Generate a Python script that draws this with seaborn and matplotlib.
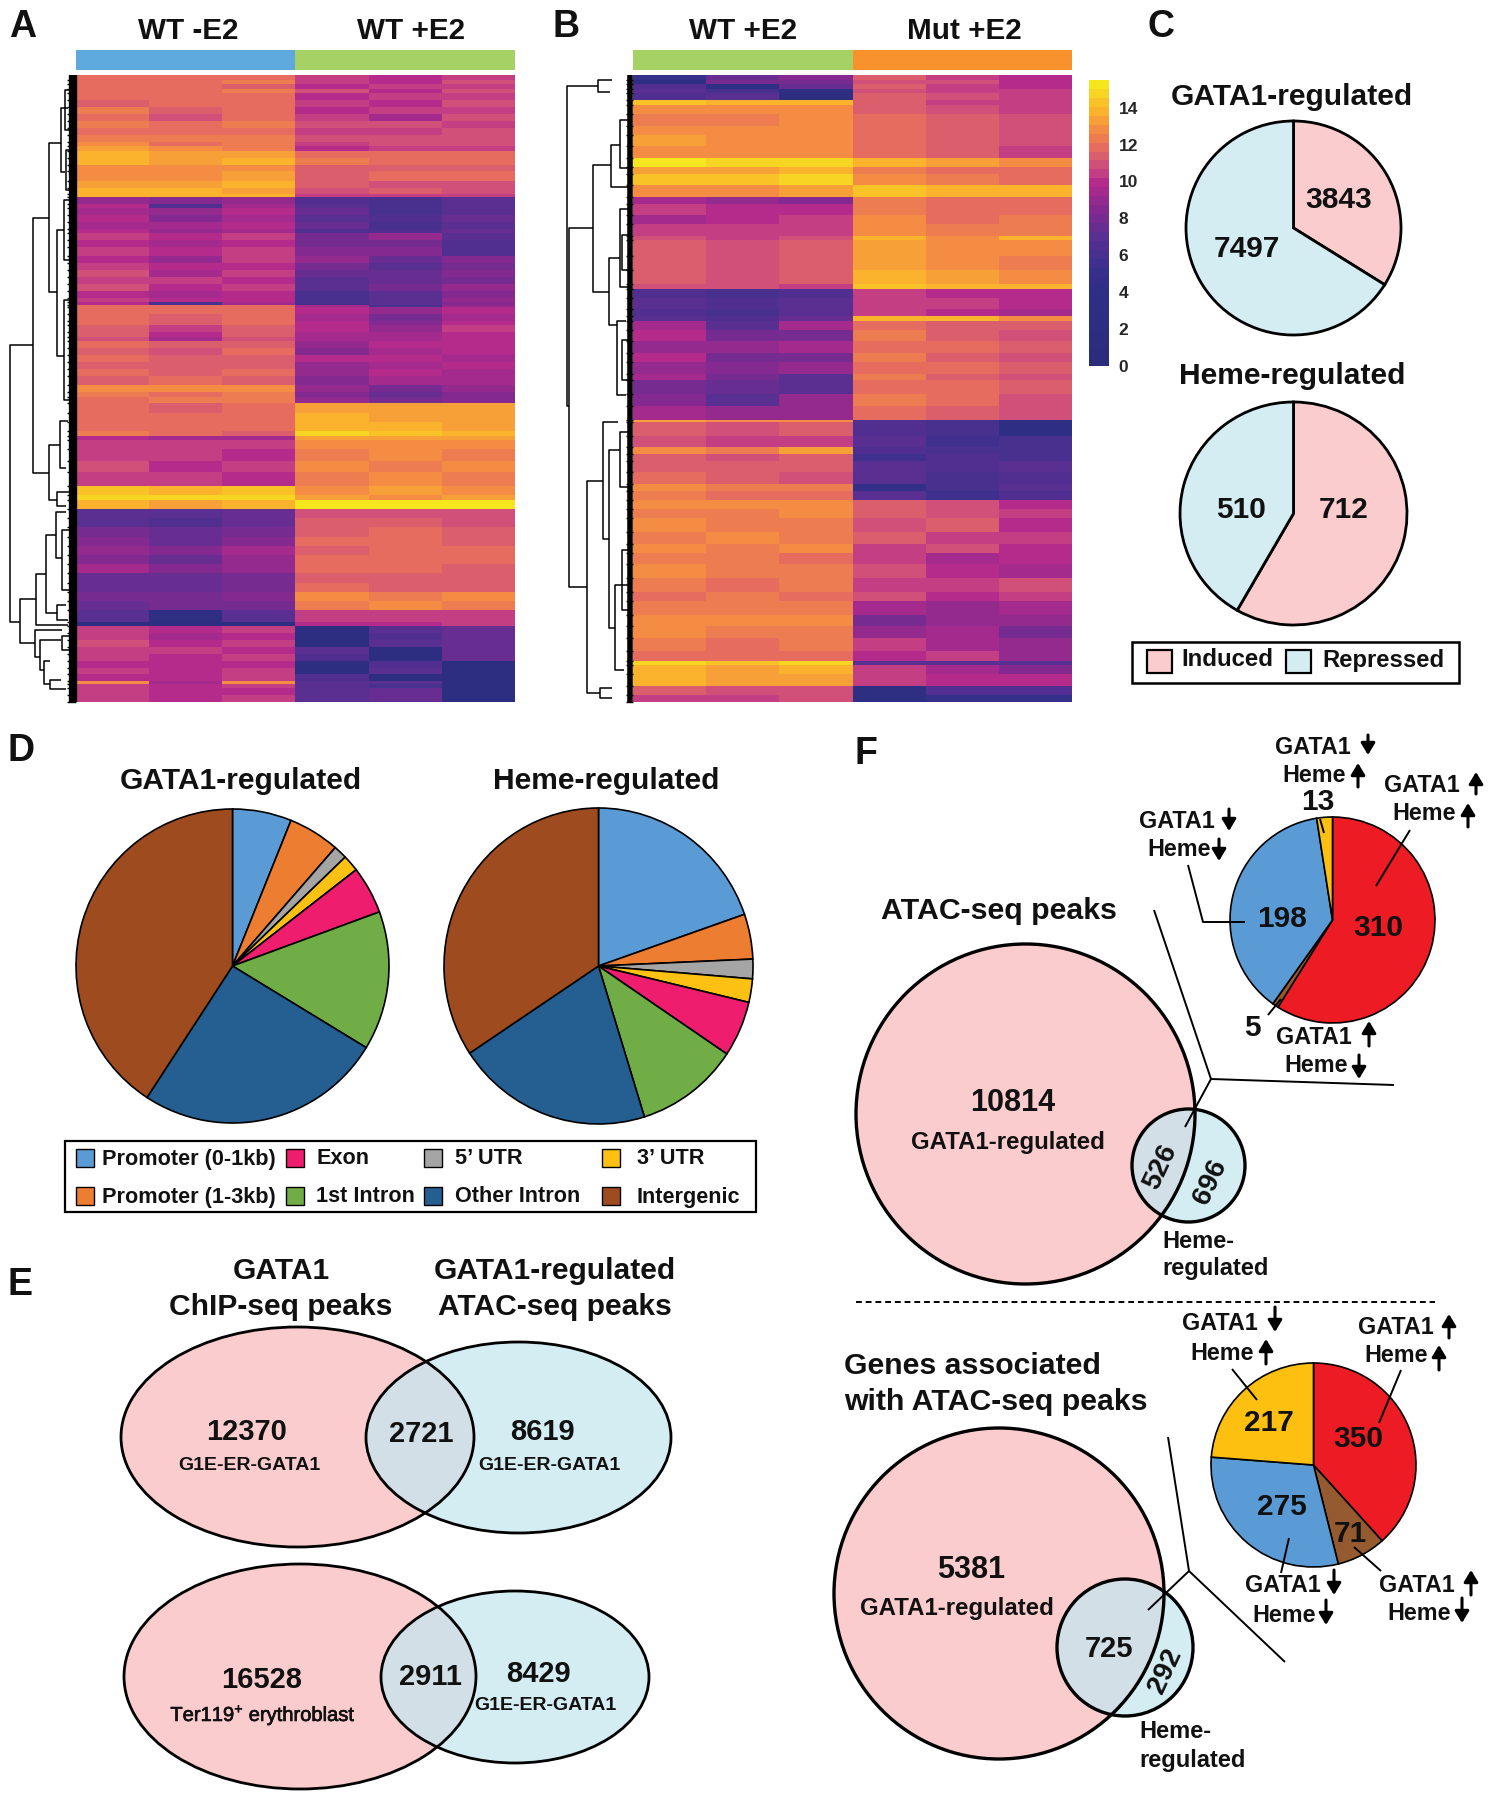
import numpy as np
import matplotlib
matplotlib.use("Agg")
import matplotlib.pyplot as plt
import matplotlib.patheffects as pe
import seaborn as sns
from matplotlib.colors import LinearSegmentedColormap
from matplotlib.patches import Ellipse, Rectangle

W, H = 1492, 1800

# heatmap bands: last gene rank of the band, then the six sample values
A_BANDS = [
    [2, 12.0, 11.9, 12.0, 10.2, 9.9, 10.4], [4, 11.7, 11.8, 12.2, 10.6, 10.0, 11.0],
    [6, 12.1, 12.0, 11.6, 10.0, 10.3, 10.3], [8, 11.8, 11.7, 12.3, 10.7, 10.1, 11.1],
    [11, 12.0, 11.9, 11.8, 10.1, 10.4, 10.4], [14, 11.6, 12.0, 12.1, 10.6, 9.9, 10.8],
    [17, 12.2, 11.6, 11.8, 9.9, 10.2, 10.3], [20, 12.0, 11.0, 11.9, 10.5, 9.4, 10.7],
    [23, 12.4, 12.1, 12.2, 10.8, 10.8, 10.5], [26, 12.1, 11.8, 12.0, 10.4, 10.3, 11.0],
    [29, 12.4, 12.3, 12.3, 10.9, 10.7, 10.8], [31, 12.6, 12.1, 12.2, 10.5, 11.0, 11.1],
    [33, 13.2, 12.9, 12.5, 9.8, 10.4, 10.6], [36, 13.6, 13.2, 13.4, 11.8, 11.7, 11.8],
    [39, 13.7, 13.5, 13.6, 12.2, 11.9, 12.0], [42, 12.9, 12.7, 13.0, 11.6, 11.5, 11.4],
    [46, 13.0, 13.0, 13.1, 11.2, 11.7, 11.7], [49, 13.5, 13.4, 13.6, 11.4, 11.0, 11.1],
    [52, 13.7, 13.6, 13.4, 10.8, 11.2, 11.0], [53, 13.9, 13.8, 14.0, 10.2, 10.6, 10.4],
    [56, 9.2, 8.3, 9.1, 6.6, 6.2, 6.8], [58, 9.7, 6.5, 9.5, 6.9, 6.2, 7.2],
    [61, 9.3, 9.2, 9.7, 7.3, 6.0, 6.9], [64, 9.9, 8.6, 9.4, 7.0, 6.3, 7.4],
    [67, 9.5, 9.4, 10.0, 7.4, 6.1, 7.1], [69, 10.0, 9.0, 9.6, 6.3, 6.4, 7.5],
    [72, 10.4, 9.9, 10.2, 8.2, 9.0, 7.0], [75, 10.0, 9.5, 9.9, 7.8, 8.2, 6.6],
    [79, 10.6, 10.0, 10.4, 8.4, 8.6, 6.4], [82, 9.8, 9.2, 10.3, 8.8, 7.6, 8.4],
    [85, 10.4, 9.7, 10.0, 8.0, 7.2, 8.0], [88, 11.0, 9.5, 10.3, 7.5, 7.7, 8.6],
    [91, 10.3, 10.2, 9.8, 7.2, 7.4, 8.2], [94, 10.7, 9.9, 10.2, 6.8, 7.8, 8.8],
    [97, 9.8, 9.4, 10.1, 6.0, 6.9, 8.4], [99, 10.2, 9.9, 9.9, 6.0, 7.2, 9.0],
    [100, 10.0, 6.0, 9.6, 6.1, 7.0, 8.6], [101, 11.9, 11.8, 11.9, 9.6, 6.2, 8.8],
    [104, 12.0, 11.9, 12.1, 10.0, 8.8, 9.8], [107, 11.7, 11.6, 11.8, 9.6, 8.0, 9.5],
    [109, 11.8, 11.2, 11.9, 10.1, 8.4, 10.0], [112, 11.4, 10.3, 11.5, 10.0, 9.0, 10.2],
    [114, 11.2, 10.0, 11.3, 9.3, 9.4, 9.9], [116, 11.1, 9.4, 11.0, 9.6, 9.6, 10.0],
    [119, 11.7, 11.3, 11.6, 9.0, 9.9, 9.7], [122, 11.4, 11.0, 11.7, 8.6, 9.6, 10.1],
    [125, 11.8, 11.4, 11.2, 9.8, 10.0, 9.4], [128, 11.5, 11.6, 11.6, 9.2, 9.3, 9.8],
    [131, 11.8, 11.3, 11.8, 8.8, 9.7, 9.3], [135, 11.4, 11.7, 11.2, 8.3, 9.5, 9.6],
    [138, 12.9, 12.8, 12.9, 8.8, 8.2, 9.2], [140, 12.3, 12.0, 12.4, 8.4, 7.7, 8.6],
    [143, 12.0, 12.2, 12.2, 8.9, 7.9, 8.4], [147, 11.8, 11.6, 11.9, 13.4, 13.5, 13.1],
    [151, 12.1, 11.9, 12.0, 13.7, 13.4, 13.3], [155, 11.7, 11.8, 11.8, 13.6, 13.8, 13.4],
    [157, 12.2, 12.0, 11.6, 14.6, 14.3, 13.8], [159, 9.7, 9.4, 9.6, 13.2, 13.1, 13.4],
    [163, 10.6, 10.2, 10.4, 12.6, 12.6, 13.0], [168, 10.3, 10.5, 10.1, 12.4, 12.7, 12.4],
    [173, 10.7, 9.9, 10.4, 12.7, 12.3, 12.6], [179, 10.4, 10.2, 10.1, 12.4, 12.6, 12.3],
    [183, 14.4, 14.0, 14.4, 12.9, 13.4, 13.0], [185, 14.8, 14.6, 14.7, 13.2, 13.0, 13.2],
    [189, 13.7, 13.5, 13.7, 15.2, 15.2, 15.2], [193, 7.2, 6.9, 7.3, 10.9, 11.0, 11.0],
    [197, 6.8, 6.6, 7.5, 11.5, 11.3, 11.0], [201, 7.8, 7.5, 8.2, 11.2, 11.8, 11.6],
    [205, 8.7, 7.4, 8.4, 11.9, 12.0, 11.4], [209, 9.2, 8.6, 9.5, 11.5, 11.7, 11.9],
    [213, 8.4, 7.6, 9.0, 12.1, 11.8, 11.7], [217, 9.4, 8.3, 8.8, 11.8, 12.0, 11.5],
    [221, 7.6, 7.4, 8.2, 11.5, 11.3, 11.5], [225, 7.3, 7.6, 7.8, 11.8, 11.5, 11.2],
    [229, 7.9, 7.8, 8.5, 12.7, 12.5, 12.6], [233, 7.4, 8.2, 8.2, 12.4, 12.8, 12.5],
    [238, 7.0, 3.0, 7.0, 10.6, 10.3, 10.4], [240, 2.0, 2.5, 2.0, 9.9, 10.0, 10.2],
    [243, 10.6, 9.9, 10.2, 2.0, 6.8, 7.6], [246, 10.2, 9.6, 9.8, 2.0, 6.4, 7.3],
    [249, 10.7, 10.0, 10.3, 2.0, 6.9, 7.5], [252, 10.3, 10.2, 10.0, 7.0, 2.0, 7.4],
    [255, 10.6, 9.8, 10.4, 6.4, 2.0, 7.7], [258, 10.0, 10.0, 9.9, 2.0, 6.6, 2.0],
    [261, 10.3, 9.7, 10.2, 2.0, 7.2, 2.0], [264, 9.9, 10.1, 10.3, 6.5, 2.0, 2.0],
    [265, 12.7, 9.6, 12.6, 7.2, 7.0, 2.0], [267, 10.4, 9.8, 10.4, 6.8, 6.0, 2.0],
    [270, 10.2, 10.1, 10.0, 7.2, 7.6, 2.0], [273, 10.5, 9.7, 10.4, 6.9, 7.3, 2.0],
]

B_BANDS = [
    [2, 5.0, 7.5, 8.6, 11.3, 10.5, 9.8], [4, 3.5, 8.0, 8.0, 11.0, 10.8, 10.0],
    [6, 6.6, 4.0, 7.5, 11.4, 10.6, 10.1], [8, 6.8, 6.0, 3.0, 11.0, 10.3, 10.3],
    [11, 6.4, 7.0, 2.5, 11.4, 10.8, 10.3], [13, 14.2, 14.0, 14.0, 11.5, 10.6, 10.4],
    [17, 12.9, 12.6, 13.0, 11.5, 11.0, 10.6], [22, 12.5, 12.5, 12.7, 11.8, 11.3, 10.7],
    [26, 12.8, 12.6, 12.8, 12.0, 11.5, 11.0], [31, 13.3, 13.0, 13.0, 11.8, 11.2, 10.9],
    [36, 13.0, 12.8, 13.0, 11.7, 11.4, 10.6], [40, 15.1, 14.6, 14.9, 13.6, 13.2, 12.8],
    [43, 13.5, 13.5, 13.7, 12.3, 12.0, 11.8], [48, 14.2, 14.2, 14.6, 12.8, 12.3, 12.0],
    [53, 13.0, 12.8, 13.1, 14.1, 13.7, 13.6], [56, 9.5, 9.0, 8.7, 12.5, 11.8, 11.8],
    [61, 10.4, 9.8, 9.8, 12.4, 12.0, 12.1], [65, 9.6, 10.0, 10.2, 12.8, 12.0, 12.2],
    [70, 10.4, 10.4, 10.6, 12.6, 12.5, 12.4], [72, 11.0, 10.6, 11.0, 14.0, 13.0, 13.6],
    [79, 11.5, 11.0, 11.6, 13.2, 12.7, 12.8], [85, 11.2, 10.8, 11.4, 13.4, 12.9, 12.4],
    [91, 11.6, 11.0, 11.2, 13.8, 13.2, 12.8], [93, 11.0, 10.8, 10.6, 14.5, 14.0, 14.0],
    [97, 6.5, 6.0, 6.5, 10.4, 10.0, 9.8], [102, 7.0, 6.5, 7.0, 10.6, 10.2, 9.8],
    [105, 6.4, 6.0, 6.8, 10.3, 10.0, 9.4], [107, 7.2, 6.4, 7.5, 13.9, 13.6, 13.0],
    [111, 9.6, 7.0, 9.5, 11.9, 11.3, 11.4], [116, 9.9, 7.8, 8.2, 12.2, 11.5, 10.8],
    [121, 9.2, 8.8, 9.4, 12.0, 11.8, 11.3], [125, 9.8, 8.2, 7.8, 12.3, 11.6, 11.0],
    [130, 9.0, 8.6, 9.2, 12.0, 11.9, 11.5], [133, 9.6, 8.0, 6.8, 12.4, 11.6, 10.9],
    [139, 8.0, 7.4, 7.0, 12.1, 11.9, 11.3], [144, 8.4, 7.2, 9.0, 12.4, 11.8, 10.8],
    [150, 9.4, 8.8, 9.0, 12.0, 11.6, 11.0], [151, 13.3, 12.8, 13.0, 6.5, 6.0, 3.0],
    [157, 11.4, 10.9, 11.2, 6.6, 6.0, 3.5], [162, 10.8, 10.6, 10.4, 7.2, 5.8, 6.0],
    [165, 12.6, 12.2, 13.2, 6.4, 6.2, 6.0], [168, 11.6, 11.0, 11.4, 5.8, 6.6, 6.2],
    [173, 11.2, 11.4, 11.6, 7.2, 6.4, 7.0], [178, 11.7, 11.4, 11.1, 7.0, 6.0, 6.6],
    [181, 12.8, 12.4, 12.2, 4.5, 6.0, 6.8], [185, 12.2, 12.0, 11.8, 7.0, 5.5, 6.6],
    [189, 12.8, 12.7, 12.9, 11.2, 10.8, 10.0], [193, 12.4, 12.5, 12.6, 11.4, 11.0, 10.2],
    [199, 12.8, 12.3, 12.5, 11.0, 11.2, 9.8], [204, 12.5, 12.6, 12.2, 11.2, 10.4, 10.3],
    [208, 12.7, 12.2, 12.6, 10.6, 11.0, 9.9], [213, 12.4, 12.5, 12.1, 10.2, 9.6, 10.0],
    [219, 12.7, 12.3, 12.5, 10.8, 9.9, 9.6], [225, 12.2, 12.0, 12.4, 10.4, 10.6, 10.8],
    [229, 12.0, 12.2, 12.1, 10.7, 9.8, 10.2], [235, 12.5, 12.4, 12.3, 9.6, 9.0, 9.4],
    [240, 12.9, 12.6, 12.6, 8.2, 8.8, 8.8], [245, 12.6, 12.3, 12.4, 8.8, 9.4, 7.8],
    [251, 12.3, 12.1, 12.2, 10.2, 9.6, 9.0], [255, 11.9, 12.0, 11.9, 9.9, 10.3, 9.2],
    [257, 14.6, 14.1, 14.6, 6.8, 7.2, 7.0], [261, 13.6, 13.3, 13.6, 10.4, 9.6, 8.6],
    [266, 14.0, 13.4, 13.2, 10.2, 10.0, 9.9], [270, 11.2, 11.0, 11.0, 3.0, 6.4, 6.6],
    [273, 10.6, 10.4, 10.8, 3.0, 5.0, 5.0],
]

CBAR_LEVELS = [0, 3.5, 5, 7, 8.5, 10, 11, 12, 13, 14, 15.5]
CBAR_COLOURS = ["#2B2C7C", "#2E2E84", "#35308A", "#5A2F92", "#83298F", "#B52B8C",
                "#D0507A", "#E56C5E", "#F48D43", "#FBB22D", "#F5E61E"]
CBAR_TICKS = [0, 2, 4, 6, 8, 10, 12, 14]

# tree brackets: x of the stem, upper y, upper child x, lower y, lower child x
A_TREE = [(10, 345, 33, 622, 20), (33, 218, 49, 473, 49), (49, 143, 61, 292, 57),
          (61, 108, 68, 172, 65), (57, 230, 64, 356, 64), (49, 445, 60, 500, 57),
          (60, 421, 68, 468, 66), (57, 492, 70, 506, 66), (20, 599, 36, 643, 35),
          (36, 574, 46, 625, 68), (46, 535, 56, 613, 57), (56, 512, 66, 558, 62),
          (57, 605, 66, 620, 68), (35, 630, 62, 657, 40), (40, 640, 61, 670, 44),
          (44, 661, 50, 684, 50), (50, 680, 61, 689, 66), (65, 90, 70, 130, 70),
          (64, 200, 70, 260, 70), (64, 300, 70, 400, 70), (66, 150, 70, 190, 70),
          (62, 530, 70, 590, 70), (62, 636, 70, 650, 70)]
B_TREE = [(567, 86, 598, 406, 569), (598, 80, 612, 92, 610), (569, 228, 593, 587, 587),
          (593, 165, 611, 292, 609), (611, 145, 620, 187, 630), (620, 120, 628, 168, 628),
          (609, 258, 620, 325, 617), (620, 209, 628, 287, 628), (617, 321, 626, 395, 626),
          (587, 481, 603, 693, 600), (603, 422, 618, 539, 609), (609, 450, 620, 628, 615),
          (620, 432, 628, 487, 628), (615, 585, 628, 670, 624), (600, 688, 612, 698, 612),
          (622, 235, 629, 270, 629), (622, 340, 629, 380, 629), (622, 550, 629, 610, 629)]

PIE_C_TOP = [3843, 7497]
PIE_C_BOTTOM = [712, 510]
REGION_LABELS = ["Promoter (0-1kb)", "Promoter (1-3kb)", "5' UTR", "3' UTR",
                 "Exon", "1st Intron", "Other Intron", "Intergenic"]
REGION_GATA1 = [6.1, 5.3, 1.4, 1.7, 4.9, 14.3, 25.5, 40.8]
REGION_HEME = [19.7, 4.6, 2.0, 2.4, 5.7, 10.8, 20.5, 34.3]
PIE_F_TOP = [310, 5, 198, 13]
PIE_F_BOTTOM = [350, 71, 275, 217]

PINK, LBLUE, OVERLAP = "#FBCCCD", "#D4EDF3", "#D3DFE6"
REGION_COLOURS = ["#5B9BD5", "#ED7D31", "#A5A5A5", "#FDC113",
                  "#EE1D6D", "#70AD47", "#255E91", "#9E4B20"]
COMBO_COLOURS = ["#ED1C24", "#955A30", "#5B9BD5", "#FDC010"]

sns.set_theme(style="white")
plt.rcParams["font.family"] = ["Liberation Sans", "DejaVu Sans"]
plt.rcParams["mathtext.default"] = "regular"

fig = plt.figure(figsize=(W / 100, H / 100), dpi=100, facecolor="white")


def px_axes(x0, y0, x1, y1, **kw):
    return fig.add_axes([x0 / W, 1 - y1 / H, (x1 - x0) / W, (y1 - y0) / H], **kw)


cmap = LinearSegmentedColormap.from_list(
    "expr", [(lv / 15.5, c) for lv, c in zip(CBAR_LEVELS, CBAR_COLOURS)], N=32)


def band_matrix(bands):
    bands = np.array(bands)
    spans = np.diff(np.r_[0, bands[:, 0]]).astype(int)
    return np.repeat(bands[:, 1:], spans, axis=0)


cax = px_axes(1089, 80, 1109, 366)
for bands, box, cb in [(A_BANDS, (76, 75, 515, 702), False),
                       (B_BANDS, (633, 75, 1072, 702), True)]:
    ax = px_axes(*box)
    sns.heatmap(band_matrix(bands), ax=ax, cmap=cmap, vmin=0, vmax=15.5,
                xticklabels=False, yticklabels=False, cbar=cb,
                cbar_ax=cax if cb else None)
cax.set_yticks(CBAR_TICKS)
cax.set_yticklabels([str(t) for t in CBAR_TICKS], fontsize=12.5, fontweight="bold")
cax.tick_params(axis="y", length=0, pad=7)
for sp in cax.spines.values():
    sp.set_visible(False)


def draw_pie(box, values, colours, lw=1.6):
    ax = px_axes(*box)
    ax.pie(values, colors=colours, startangle=90, counterclock=False, frame=False,
           wedgeprops=dict(edgecolor="black", linewidth=lw, clip_on=False))
    ax.set_aspect("auto")
    ax.set_xlim(-1, 1)
    ax.set_ylim(-1, 1)
    ax.axis("off")


draw_pie((1186, 121, 1401, 335), PIE_C_TOP, [PINK, LBLUE], 2)
draw_pie((1180, 402, 1407, 625), PIE_C_BOTTOM, [PINK, LBLUE], 2)
draw_pie((76, 809, 389, 1123), REGION_GATA1, REGION_COLOURS, 1.2)
draw_pie((444, 808, 753, 1124), REGION_HEME, REGION_COLOURS, 1.2)
draw_pie((1230, 817, 1435, 1023), PIE_F_TOP, COMBO_COLOURS, 1.2)
draw_pie((1211, 1363, 1416, 1567), PIE_F_BOTTOM, COMBO_COLOURS, 1.2)

# everything else is laid out in picture pixels on one transparent overlay
ov = px_axes(0, 0, W, H, zorder=5)
ov.set_xlim(0, W)
ov.set_ylim(H, 0)
ov.axis("off")
ov.patch.set_alpha(0)


def txt(x, y, s, size=15, weight="bold", ha="center", rot=0):
    return ov.text(x, y + 2, s, fontsize=size, fontweight=weight, ha=ha, va="center",
                   rotation=rot, color="#111111", rotation_mode="anchor")


def line(pts, lw=1.3, **kw):
    xs, ys = zip(*pts)
    ov.plot(xs, ys, color="black", lw=lw, solid_capstyle="butt", **kw)


def arrow(x, y0, y1):
    ov.annotate("", xy=(x, y1), xytext=(x, y0),
                arrowprops=dict(arrowstyle="-|>,head_width=0.3,head_length=0.5",
                                color="black", lw=2.2, shrinkA=0, shrinkB=0,
                                mutation_scale=14))


def bar(x0, x1, colour):
    ov.add_patch(Rectangle((x0, 50), x1 - x0, 20, fc=colour, ec="none"))


def venn(a, b, lw=2):
    # a and b are (x0, y0, x1, y1) boxes of the two ellipses
    def ell(box, **kw):
        x0, y0, x1, y1 = box
        return Ellipse(((x0 + x1) / 2, (y0 + y1) / 2), x1 - x0, y1 - y0, **kw)
    ov.add_patch(ell(b, fc=LBLUE, ec="none"))
    ov.add_patch(ell(a, fc=PINK, ec="none"))
    clip = ell(a, fc="none", ec="none")
    ov.add_patch(clip)
    mid = ell(b, fc=OVERLAP, ec="none")
    ov.add_patch(mid)
    mid.set_clip_path(clip)
    ov.add_patch(ell(a, fc="none", ec="black", lw=lw))
    ov.add_patch(ell(b, fc="none", ec="black", lw=lw))


# panel letters
for s, x, y in [("A", 23, 25), ("B", 566, 25), ("C", 1161, 25),
                ("D", 21, 749), ("E", 20, 1283), ("F", 866, 752)]:
    txt(x, y, s, size=27)

# A, B headers and dendrograms
bar(76, 295, "#5EA9DD")
bar(295, 515, "#A6D164")
bar(633, 852.5, "#A6D164")
bar(852.5, 1072, "#F7922D")
for s, x in [("WT -E2", 188), ("WT +E2", 411), ("WT +E2", 743), ("Mut +E2", 964)]:
    txt(x, 29, s, size=21.3)

for tree, bands, left, width, tick in [(A_TREE, A_BANDS, 76, 6, 9), (B_TREE, B_BANDS, 633, 4, 7)]:
    for x, y0, x0, y1, x1 in tree:
        line([(x0, y0), (x, y0), (x, y1), (x1, y1)], lw=1.1)
    line([(left - 3.5, 75), (left - 3.5, 702)], lw=width)
    for row in bands:
        y = 75 + row[0] / 273 * 627
        line([(left - tick, y), (left, y)], lw=1)

# C
txt(1292, 95, "GATA1-regulated", size=21.6)
txt(1292, 374, "Heme-regulated", size=21.6)
txt(1339, 198, "3843", size=21.5)
txt(1247, 247, "7497", size=21.5)
txt(1241, 508, "510", size=21.5)
txt(1344, 508, "712", size=21.5)
ov.add_patch(Rectangle((1132, 642), 327, 41, fc="white", ec="black", lw=1.8))
ov.add_patch(Rectangle((1147, 650), 25, 23, fc=PINK, ec="black", lw=1.6))
ov.add_patch(Rectangle((1286, 650), 25, 23, fc=LBLUE, ec="black", lw=1.6))
txt(1181, 658, "Induced", size=17.3, ha="left")
txt(1322, 658, "Repressed", size=17.2, ha="left")

# D
txt(241, 779, "GATA1-regulated", size=21.6)
txt(606, 779, "Heme-regulated", size=21.6)
ov.add_patch(Rectangle((65, 1141), 691, 71, fc="white", ec="black", lw=1.6))
cols_patch = [76, 286, 424, 602]
cols_text = [102, 316, 455, 637]
legend_order = [[0, 4, 2, 3], [1, 5, 6, 7]]
for y, order in zip([1158, 1196], legend_order):
    for px, tx, i in zip(cols_patch, cols_text, order):
        ov.add_patch(Rectangle((px, y - 9), 18, 18, fc=REGION_COLOURS[i],
                               ec="black", lw=1))
        lab = REGION_LABELS[i].replace("'", "\u2019")
        txt(tx, y - 1, lab, size=15.6, ha="left")

# E
txt(281, 1269, "GATA1", size=21.6)
txt(281, 1305, "ChIP-seq peaks", size=21.6)
txt(555, 1269, "GATA1-regulated", size=21.6)
txt(555, 1305, "ATAC-seq peaks", size=21.6)
venn((121, 1327, 474, 1547), (366, 1342, 671, 1533))
venn((124, 1564, 476, 1789), (381, 1591, 649, 1763))
for x, y, s in [(247, 1430, "12370"), (421, 1432, "2721"), (542, 1430, "8619"),
                (262, 1678, "16528"), (430, 1675, "2911"), (538, 1672, "8429")]:
    txt(x, y, s, size=21)
txt(249, 1464, "G1E-ER-GATA1", size=14)
txt(549, 1464, "G1E-ER-GATA1", size=14)
txt(545, 1703, "G1E-ER-GATA1", size=14)
t = txt(263, 1713, "Ter119$^{+}$ erythroblast", size=14.5, weight="normal")
t.set_path_effects([pe.withStroke(linewidth=0.5, foreground="#111111")])

# F, ATAC-seq peaks
txt(999, 909, "ATAC-seq peaks", size=21.8)
venn((856, 944, 1195, 1284), (1132, 1109, 1245, 1222), lw=2.4)
txt(1013, 1101, "10814", size=22)
txt(1008, 1141, "GATA1-regulated", size=17.3)
txt(1161, 1165, "526", size=20, rot=65)
txt(1210, 1180, "696", size=20, rot=65)
txt(1162, 1239, "Heme-", size=17, ha="left")
txt(1162, 1267, "regulated", size=17, ha="left")
for x, y, s in [(1282, 917, "198"), (1378, 926, "310"), (1318, 800, "13"), (1252, 1026, "5")]:
    txt(x, y, s, size=21.5)

# F, genes
txt(844, 1364, "Genes associated", size=21.8, ha="left")
txt(844, 1400, "with ATAC-seq peaks", size=21.8, ha="left")
venn((834, 1428, 1164, 1759), (1057, 1579, 1193, 1716), lw=2.4)
txt(971, 1568, "5381", size=22)
txt(957, 1606, "GATA1-regulated", size=17.3)
txt(1109, 1647, "725", size=21)
txt(1165, 1669, "292", size=20, rot=65)
txt(1139, 1730, "Heme-", size=17, ha="left")
txt(1139, 1758, "regulated", size=17, ha="left")
for x, y, s in [(1269, 1421, "217"), (1358, 1437, "350"), (1282, 1505, "275"), (1350, 1532, "71")]:
    txt(x, y, s, size=21.5)

# combination labels: GATA1 label x, y, then its arrow, Heme label, its arrow
COMBO_NOTES = [
    (1313, 746, 1368, 735, 755, 1314, 774, 1358, 787, 763),
    (1422, 784, 1476, 794, 772, 1424, 813, 1468, 827, 803),
    (1177, 820, 1229, 809, 831, 1179, 849, 1219, 839, 861),
    (1314, 1036, 1369, 1046, 1021, 1316, 1065, 1359, 1055, 1079),
    (1220, 1323, 1275, 1307, 1332, 1222, 1352, 1266, 1364, 1339),
    (1396, 1326, 1449, 1338, 1314, 1396, 1355, 1439, 1370, 1345),
    (1283, 1585, 1334, 1570, 1595, 1284, 1614, 1326, 1600, 1625),
    (1417, 1585, 1471, 1595, 1570, 1419, 1613, 1462, 1598, 1623),
]
for gx, gy, ax_, a0, a1, hx, hy, bx, b0, b1 in COMBO_NOTES:
    txt(gx, gy - 1, "GATA1", size=16.8)
    arrow(ax_, a0, a1)
    txt(hx, hy - 1, "Heme", size=16.8)
    arrow(bx, b0, b1)

# leader and zoom lines
for pts in [[(1320, 819), (1324, 833)], [(1410, 830), (1376, 886)],
            [(1188, 865), (1203, 922), (1245, 922)], [(1268, 1015), (1281, 999)],
            [(1154, 910), (1211, 1079), (1394, 1085)], [(1211, 1079), (1185, 1127)],
            [(1232, 1369), (1257, 1400)], [(1401, 1370), (1379, 1423)],
            [(1289, 1538), (1281, 1573)], [(1354, 1547), (1381, 1571)],
            [(1168, 1437), (1189, 1571), (1285, 1662)], [(1189, 1571), (1148, 1610)]]:
    line(pts, lw=1.4)
ov.plot([856, 1435], [1302, 1302], color="black", lw=1.4, ls=(0, (3, 2)))

fig.savefig("out.png", dpi=100, facecolor="white")
